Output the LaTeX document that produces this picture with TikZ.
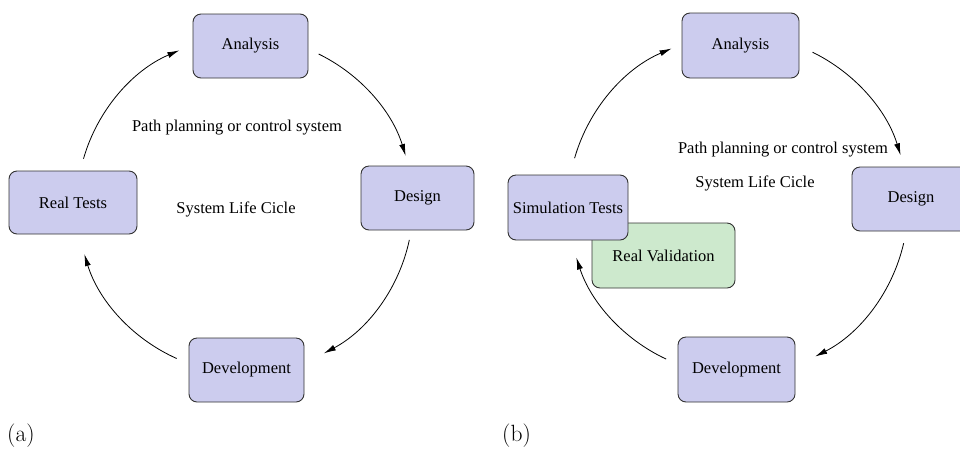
\documentclass[tikz,border=0pt]{standalone}
\usepackage{fontspec}
\newfontfamily\timesf{Liberation Serif}
\usetikzlibrary{arrows.meta}
\definecolor{boxblue}{RGB}{204,204,238}
\definecolor{boxgreen}{RGB}{205,233,205}
\definecolor{edgegray}{RGB}{50,50,50}
\tikzset{
  stagebox/.style={draw=edgegray, line width=0.9pt, rounded corners=8pt, fill=boxblue,
    inner sep=0pt, font=\timesf\fontsize{16.5}{20}\selectfont},
  greenbox/.style={stagebox, fill=boxgreen},
  plaintext/.style={inner sep=0pt, font=\timesf\fontsize{16.5}{20}\selectfont},
  flow/.style={line width=0.8pt, -{Latex[length=12pt,width=6pt]}},
  sublabel/.style={inner sep=0pt, anchor=base west, font=\fontsize{23.5}{28}\selectfont}
}
\begin{document}
\begin{tikzpicture}[x=1pt, y=-1pt]
\useasboundingbox (0,0) rectangle (960,448);

% ---------- panel (a) ----------
\node[stagebox, minimum width=115pt, minimum height=64pt] (anA) at (250.5,46) {Analysis};
\node[stagebox, minimum width=113pt, minimum height=64pt] (deA) at (417.5,198) {Design};
\node[stagebox, minimum width=128pt, minimum height=63pt] (rtA) at (73,202.5) {Real Tests};
\node[stagebox, minimum width=115pt, minimum height=64pt] (dvA) at (246.5,370) {Development};
\node[plaintext] (ppA) at (237,128) {Path planning or control system};
\node[plaintext] (slA) at (236,209) {System Life Cicle};
\node[sublabel] (labA) at (7,441.5) {(a)};

\coordinate (cA) at (245,205);
\path (cA) ++(-64:168) coordinate (a1);
\path (cA) ++(12:168) coordinate (a2);
\path (cA) ++(114:168) coordinate (a3);
\path (cA) ++(196:168) coordinate (a4);
\draw[flow] (a1) arc[start angle=-64, end angle=-17, radius=168];
\draw[flow] (a2) arc[start angle=12, end angle=62, radius=168];
\draw[flow] (a3) arc[start angle=114, end angle=163, radius=168];
\draw[flow] (a4) arc[start angle=196, end angle=247, radius=168];

% ---------- panel (b) ----------
\node[stagebox, minimum width=117pt, minimum height=65pt] (anB) at (740.5,45.5) {Analysis};
\node[stagebox, minimum width=118pt, minimum height=64pt] (deB) at (911,199) {Design};
\node[greenbox, minimum width=143pt, minimum height=65pt] (rvB) at (663.5,255.5) {Real Validation};
\node[stagebox, minimum width=120pt, minimum height=65pt] (stB) at (568,207.5) {Simulation Tests};
\node[stagebox, minimum width=117pt, minimum height=65pt] (dvB) at (736.5,369.5) {Development};
\node[plaintext] (ppB) at (783,150) {Path planning or control system};
\node[plaintext] (slB) at (755,183) {System Life Cicle};
\node[sublabel] (labB) at (502,441.5) {(b)};

\coordinate (cB) at (738,205);
\path (cB) ++(-64:170) coordinate (b1);
\path (cB) ++(13:170) coordinate (b2);
\path (cB) ++(115:170) coordinate (b3);
\path (cB) ++(196:170) coordinate (b4);
\draw[flow] (b1) arc[start angle=-64, end angle=-17, radius=170];
\draw[flow] (b2) arc[start angle=13, end angle=63, radius=170];
\draw[flow] (b3) arc[start angle=115, end angle=162, radius=170];
\draw[flow] (b4) arc[start angle=196, end angle=247, radius=170];
\end{tikzpicture}
\end{document}
